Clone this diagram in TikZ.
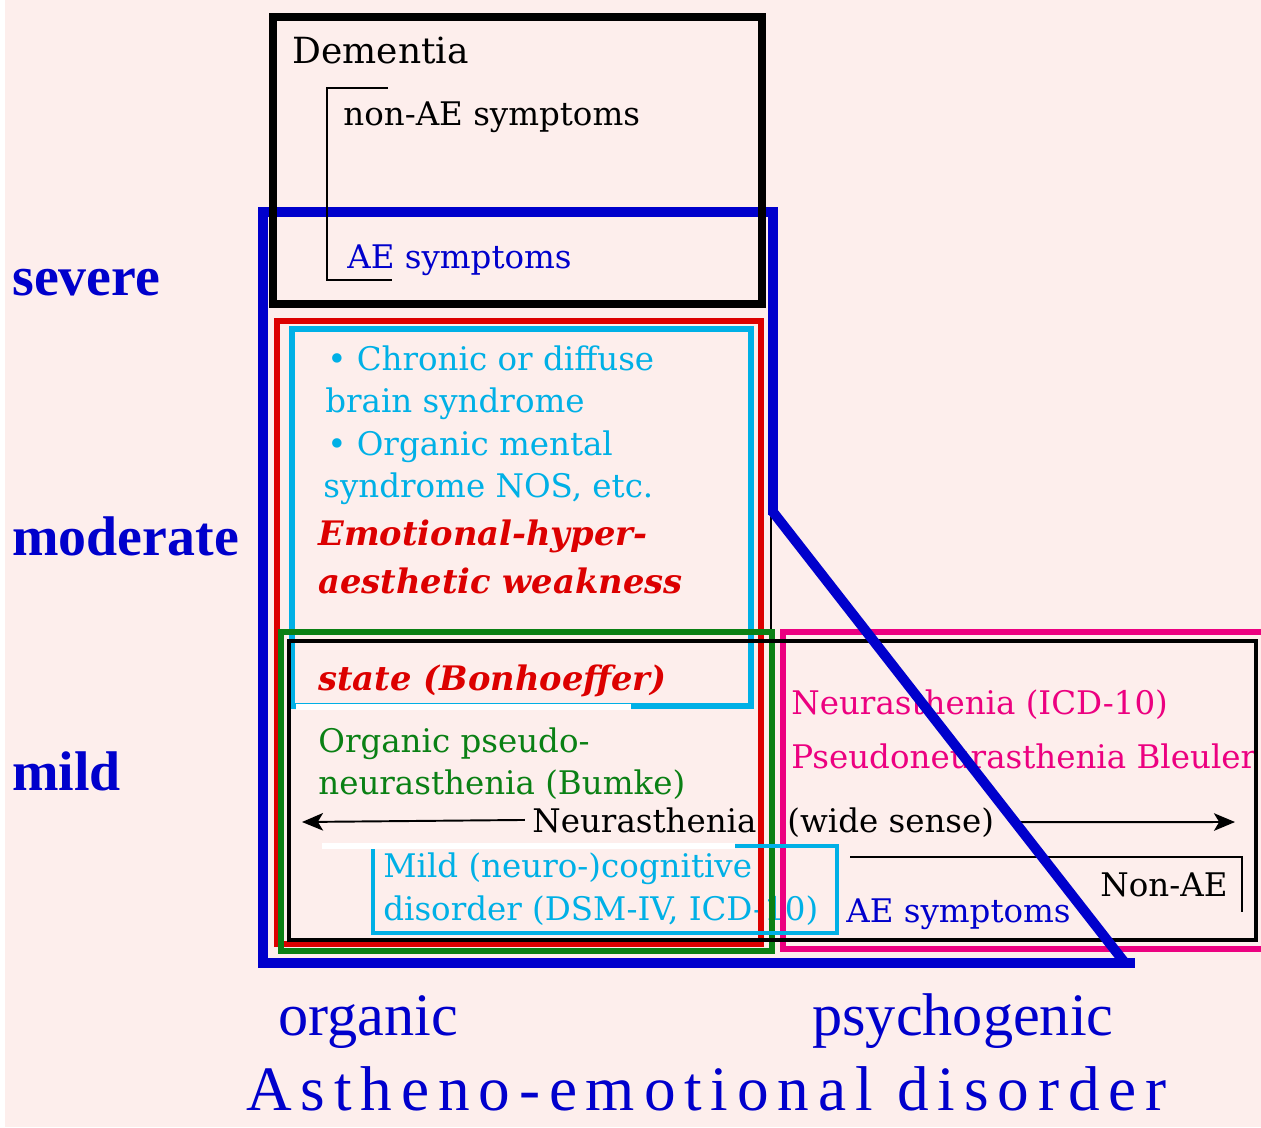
\documentclass[tikz,border=0pt]{standalone}
\usepackage{fontspec}
\setmainfont{DejaVu Serif}
\newfontfamily\timesfont{Liberation Serif}
\newfontfamily\widefont[LetterSpace=14]{Liberation Serif}
\usepackage{tikz}
\usetikzlibrary{positioning, arrows.meta}
\definecolor{bgpink}{RGB}{253,238,236}
\definecolor{aeblue}{RGB}{0,0,204}
\definecolor{aered}{RGB}{220,0,0}
\definecolor{aecyan}{RGB}{0,176,230}
\definecolor{aegreen}{RGB}{10,128,20}
\definecolor{aepink}{RGB}{236,0,128}
\tikzstyle{Arrow} = [
    line width=1.1pt,
    -{Stealth[length=12pt, width=10pt, inset=3pt]}
]

\begin{document}
\begin{tikzpicture}[
x=0.02cm, y=-0.02cm,
txt/.style={
    inner sep=0pt,
    anchor=base west,
    font=\fontsize{18.5}{22}\selectfont
    },
redtxt/.style={
    txt,
    text=aered,
    font=\fontsize{19.2}{23}\selectfont\bfseries\itshape
    },
level/.style={
    inner sep=0pt,
    anchor=base west,
    text=aeblue,
    font=\timesfont\fontsize{31.8}{36}\selectfont\bfseries
    },
cause/.style={
    inner sep=0pt,
    anchor=base west,
    text=aeblue,
    font=\timesfont\fontsize{34.3}{40}\selectfont
    }
]

\useasboundingbox (0,0) rectangle (1261,1127);
\fill[bgpink] (0,0) rectangle (1261,1127);
\fill[white] (0,0) rectangle (5,1127);

\draw[aeblue, line width=5.7pt] (773,515) -- (773,212) -- (263,212) -- (263,963) -- (1135,963);

\node [txt, font=\fontsize{20.5}{24}\selectfont] (dem) at (292,63) {Dementia};
\node [txt] (non) at (343,125) {non-AE symptoms};
\node [txt, text=aeblue] (ae1) at (347,268) {AE symptoms};

\node [txt, text=aecyan] (c1) at (327,370) {• Chronic or diffuse};
\node [txt, text=aecyan] (c2) at (325,412) {brain syndrome};
\node [txt, text=aecyan] (c3) at (327,455) {• Organic mental};
\node [txt, text=aecyan] (c4) at (323,497) {syndrome NOS, etc.};

\node [redtxt] (r1) at (318,545) {Emotional-hyper-};
\node [redtxt] (r2) at (318,593) {aesthetic weakness};
\node [redtxt] (r3) at (318,690) {state (Bonhoeffer)};

\node [txt, text=aegreen] (g1) at (318,752) {Organic pseudo-};
\node [txt, text=aegreen] (g2) at (318,794) {neurasthenia (Bumke)};

\node [txt] (neu) at (532,832) {Neurasthenia};
\node [txt] (wide) at (787,832) {(wide sense)};

\node [txt, text=aecyan] (m1) at (383,877) {Mild (neuro-)cognitive};
\node [txt, text=aecyan] (m2) at (383,920) {disorder (DSM-IV, ICD-10)};

\node [txt, text=aepink] (p1) at (791,714) {Neurasthenia (ICD-10)};
\node [txt, text=aepink] (p2) at (791,768) {Pseudoneurasthenia Bleuler};

\node [txt] (nonae) at (1100,896) {Non-AE};
\node [txt, text=aeblue] (ae2) at (846,922) {AE symptoms};

\node [level] (severe) at (12,295) {severe};
\node [level] (moderate) at (12,555) {moderate};
\node [level] (mild) at (12,790) {mild};

\node [cause] (org) at (278,1035) {organic};
\node [cause] (psy) at (812,1035) {psychogenic};
\node [inner sep=0pt, anchor=base west, text=aeblue,
    font=\widefont\fontsize{36}{42}\selectfont] (title) at (246,1110) {Astheno-emotional disorder};

\draw[line width=4pt] (273,17) rectangle (762,304);
\draw[line width=1.1pt] (388,88) -- (327,88) -- (327,280) -- (392,280);

\draw[aered, line width=3.4pt] (277,321) rectangle (761,944);
\draw[aecyan, line width=3.4pt] (292,329) rectangle (751,706);
\draw[line width=1.1pt] (771,515) -- (771,630);
\draw[aegreen, line width=3.4pt] (281,632) rectangle (772,951);
\draw[aepink, line width=3.4pt] (1270,632) -- (783,632) -- (783,949) -- (1270,949);
\draw[line width=2.3pt] (289,641) rectangle (1256,940);
\draw[aecyan, line width=2.3pt] (373,846) rectangle (837,933);

\draw[white, line width=3.4pt] (296,707) -- (631,707);
\draw[white, line width=3pt] (322,846) -- (735,846);

\draw[line width=1.1pt] (850,857) -- (1242,857) -- (1242,912);

\coordinate (lt) at (302,822);
\coordinate (rt) at (1235,822);
\draw[Arrow, shorten <=4pt] (neu.west) -- (lt);
\draw[Arrow, shorten <=11pt] (wide.east) -- (rt);

\draw[aeblue, line width=5.7pt] (773,512) -- (1125,963);

\end{tikzpicture}
\end{document}
